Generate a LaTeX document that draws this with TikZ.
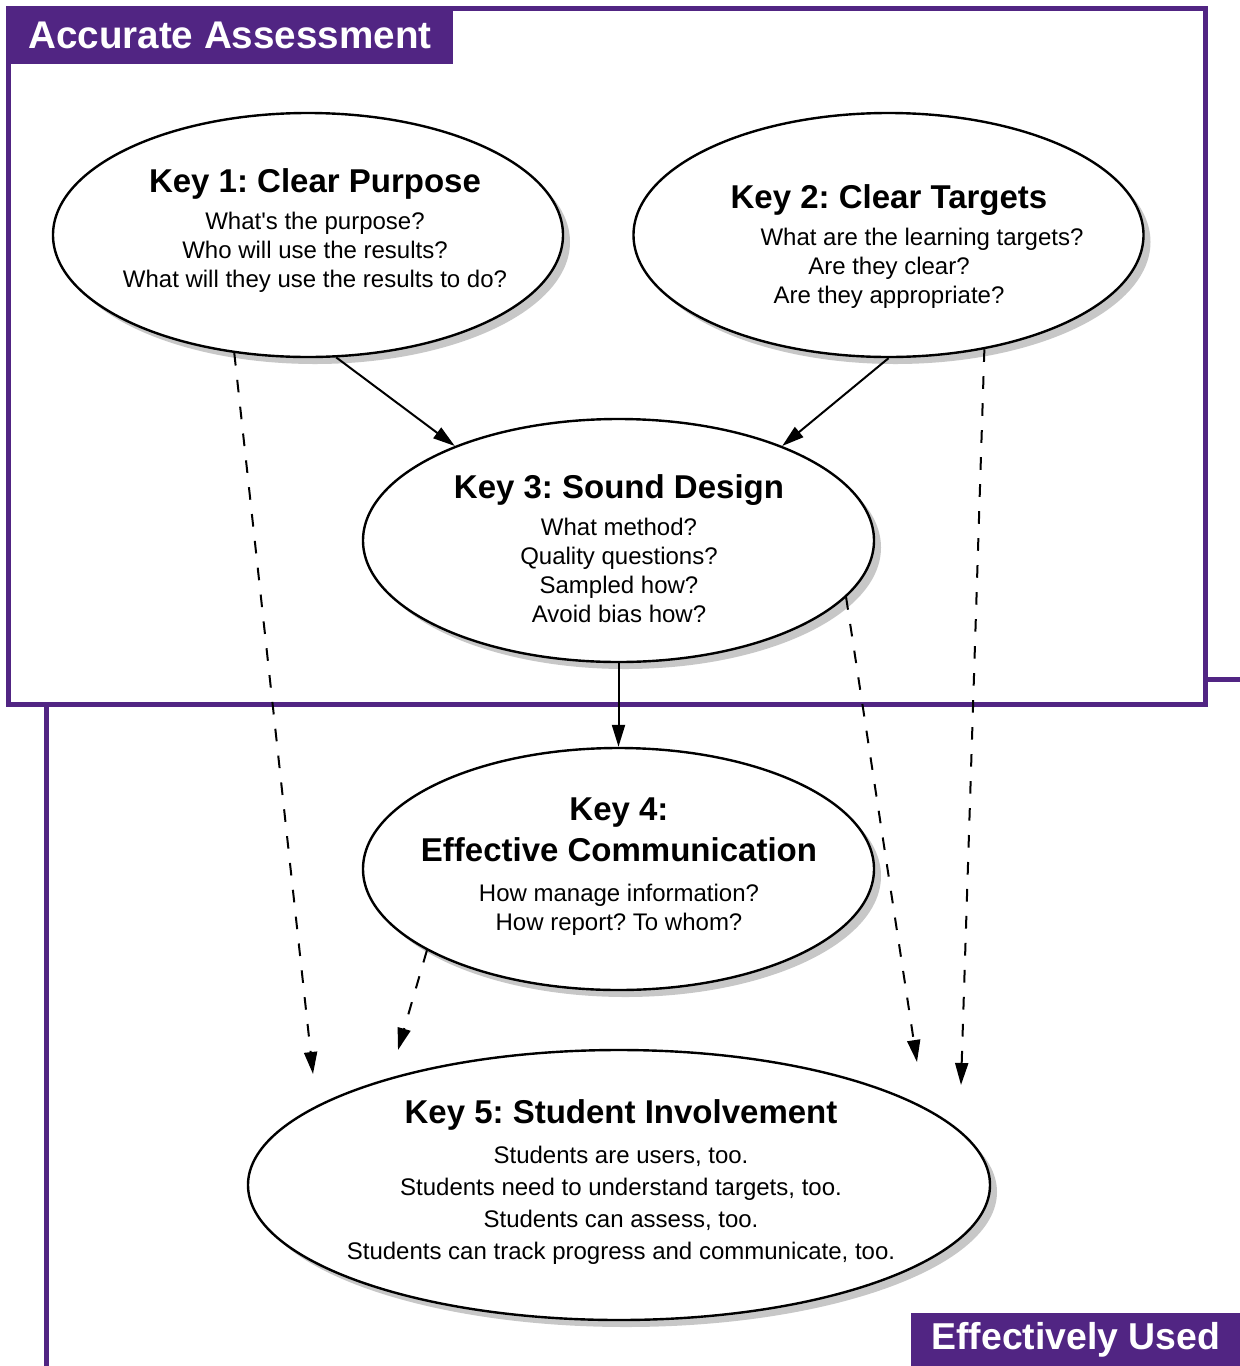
\documentclass[tikz,border=0pt]{standalone}
\usepackage{fontspec}
\setmainfont{Liberation Sans}
\frenchspacing
\usetikzlibrary{shapes.geometric,shadows,arrows.meta}
\definecolor{frame}{RGB}{81,37,131}
\tikzset{
  key/.style={ellipse, draw, line width=1.2pt, fill=white, inner sep=0pt,
    drop shadow={shadow xshift=3.5pt, shadow yshift=-3.5pt, fill=black!22, opacity=1}},
  keytext/.style={align=center, inner sep=0pt, font=\fontsize{12}{14.5}\selectfont},
  tag/.style={fill=frame, text=white, inner sep=0pt, anchor=north west,
    font=\fontsize{19.3}{22}\selectfont\bfseries},
  link/.style={line width=1pt, ->},
  hint/.style={link, dash pattern=on 6.3pt off 7.2pt},
}
\newcommand{\keyhead}[1]{{\fontsize{16.5}{19}\selectfont\bfseries #1}}

\begin{document}
\begin{tikzpicture}[x=0.5pt, y=-0.5pt, >={Triangle[length=11pt,width=6.5pt]}]
\useasboundingbox (0,0) rectangle (1240,1366);
\clip (0,0) rectangle (1240,1366);
% the two frames
\draw[frame, line width=2.5pt] (46,679.5) rectangle (1300,1420);
\draw[frame, line width=2.5pt, fill=white] (8.5,8.5) rectangle (1205.5,704.5);
\node[tag, minimum width=223.5pt, minimum height=28.5pt] (acc) at (6,7) {Accurate Assessment};
\node[tag, minimum width=164.5pt, minimum height=26.5pt,
  font=\fontsize{18.7}{22}\selectfont\bfseries] (used) at (911,1313) {Effectively Used};

% the five keys
\node[key, minimum width=255pt, minimum height=122pt] (k1) at (308,235) {};
\node[key, minimum width=255pt, minimum height=122pt] (k2) at (888.5,235) {};
\node[key, minimum width=255.5pt, minimum height=121.5pt] (k3) at (618.5,540.5) {};
\node[key, minimum width=255.5pt, minimum height=121pt] (k4) at (618.5,869) {};
\node[key, minimum width=371pt, minimum height=135pt] (k5) at (619,1185) {};

\node[keytext] (t1) at (315,231) {\keyhead{Key 1: Clear Purpose}\\[4pt]
  What\textquotesingle s the purpose?\\ Who will use the results?\\
  What will they use the results to do?};
\node[keytext] (t2) at (889,247) {\keyhead{Key 2: Clear Targets}\\[4pt]
  \hspace*{33pt}What are the learning targets?\\ Are they clear?\\ Are they appropriate?};
\node[keytext] (t3) at (619,549) {\keyhead{Key 3: Sound Design}\\[4pt]
  What method?\\ Quality questions?\\ Sampled how?\\ Avoid bias how?};
\node[keytext] (t4) at (619,867) {\keyhead{Key 4:}\\[4pt]
  \keyhead{Effective Communication}\\[5.5pt]
  How manage information?\\ How report? To whom?};
\node[keytext, font=\fontsize{12}{16}\selectfont] (t5) at (621,1182)
  {\keyhead{Key 5: Student Involvement}\\[4pt]
  Students are users, too.\\ Students need to understand targets, too.\\
  Students can assess, too.\\ Students can track progress and communicate, too.};

% connectors
\coordinate (e1) at (313,1074);
\coordinate (e2) at (398,1050);
\coordinate (e3) at (917,1062);
\coordinate (e4) at (961,1085);
\draw[link] (k1.-77) -- (k3.150);
\draw[link] (k2.south) -- (k3.30);
\draw[link] (k3.south) -- (k4.north);
\draw[hint] (k1.-122) -- (e1);
\draw[hint] (k4.-157) -- (e2);
\draw[hint] (k3.-14) -- (e3);
\draw[hint] (k2.-50) -- (e4);
\end{tikzpicture}
\end{document}
